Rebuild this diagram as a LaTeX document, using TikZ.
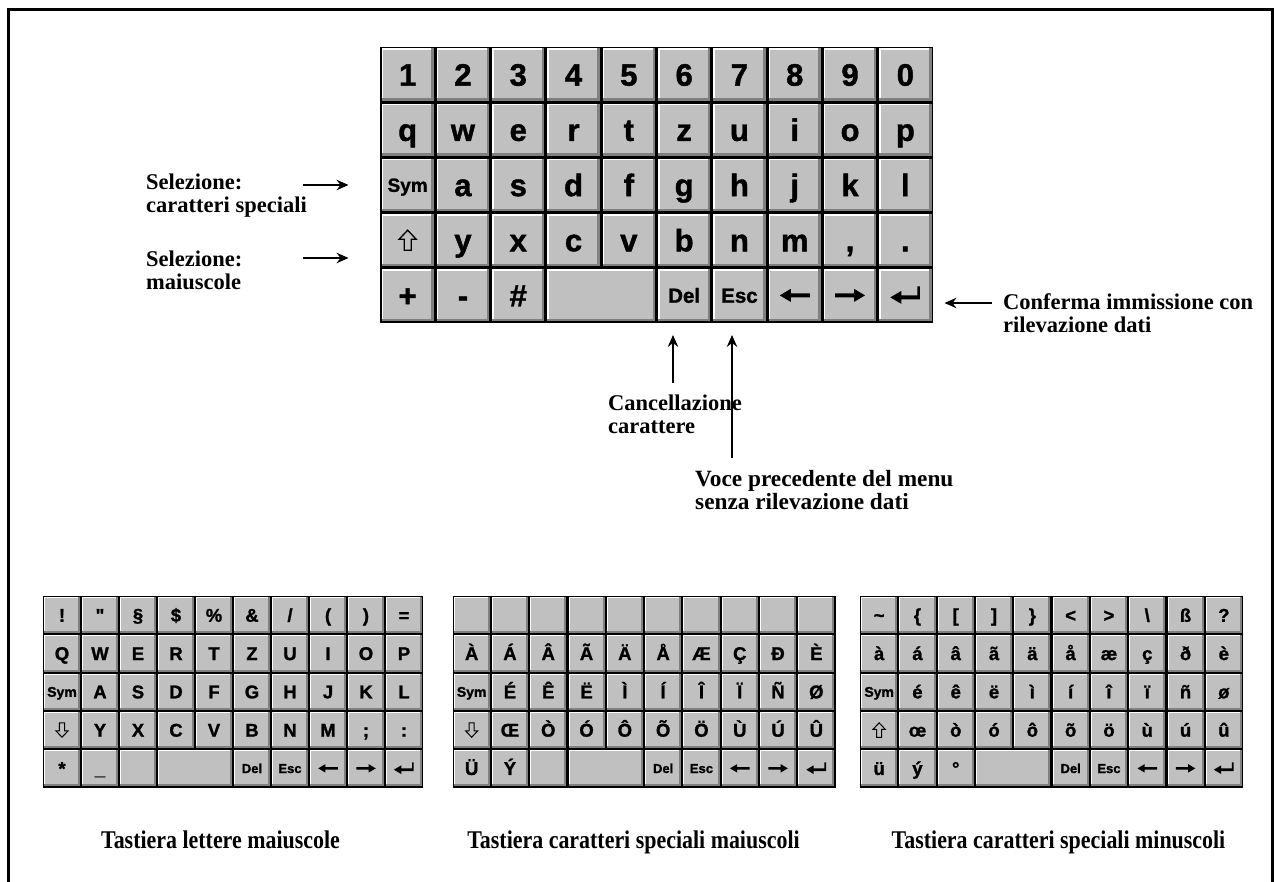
\documentclass[tikz,border=0pt]{standalone}
\usepackage{fontspec}
\setmainfont{Liberation Serif}
\setsansfont{Liberation Sans}
\newfontfamily\condfont[FakeStretch=0.86]{Liberation Serif}
\newfontfamily\keyfamily[FakeBold=1.3]{Liberation Sans}
\usetikzlibrary{arrows.meta}
\definecolor{keyface}{HTML}{C0C0C0}
\definecolor{keyshadow}{HTML}{808080}

\def\kfont{\fontsize{31}{31}\selectfont}\def\KT{22.2}
\def\symfont{\fontsize{19}{19}\selectfont}\def\symT{13.6}
\def\delfont{\fontsize{20.5}{20.5}\selectfont}\def\delT{14.7}

\tikzset{
  keynode/.style={inner sep=0pt, outer sep=0pt, font=\keyfamily\bfseries\kfont,
    text height=\KT pt, text depth=0pt},
  symk/.style={font=\keyfamily\bfseries\symfont, text height=\symT pt},
  delk/.style={font=\keyfamily\bfseries\delfont, text height=\delT pt},
  lbl/.style={font=\bfseries\fontsize{22.5}{23}\selectfont, align=left,
    inner sep=0pt, anchor=base west},
  blbl/.style={font=\condfont\bfseries\fontsize{25.5}{25.5}\selectfont,
    inner sep=0pt, anchor=base},
  arr/.style={line width=1.3pt, -{Stealth[length=12pt,width=10.5pt,inset=4pt]}},
  frame/.style={line width=3pt}
}

% key: [extra style]{name}{col}{row}{span}{label}
\newcommand\kkey[6][]{%
  \pgfmathsetmacro\kxa{\KX+(#3-1)*\KW+\KB}%
  \pgfmathsetmacro\kxb{\KX+(#3-1+#5)*\KW-\KB}%
  \pgfmathsetmacro\kya{\KY+(#4-1)*\KH+\KB}%
  \pgfmathsetmacro\kyb{\KY+#4*\KH-\KB}%
  \pgfmathsetmacro\kkw{\kxb-\kxa}%
  \pgfmathsetmacro\kkh{\kyb-\kya}%
  \fill[keyshadow] (\kxa,\kya) rectangle (\kxb,\kyb);
  \fill[white] (\kxa,\kya) rectangle (\kxb-\KS,\kyb-\KS);
  \fill[keyface] (\kxa+\KL,\kya+\KL) rectangle (\kxb-\KS,\kyb-\KS);
  \node[keynode, minimum width=\kkw pt, minimum height=\kkh pt, #1] (#2)
    at ({(\kxa+\kxb)/2},{(\kya+\kyb)/2}) {#6};
}
% row of single keys: {prefix}{row}{first col}{labels}
\newcommand\krow[4]{%
  \foreach \lab [count=\kc from #3] in {#4} {\kkey{#1-#2-\kc}{\kc}{#2}{1}{\lab}}%
}
% icons
\newcommand\icoleft[2]{\fill[shift={(#1.center)}, scale=#2]
  (-15,0) -- (-4,-6.5) -- (-4,-2) -- (15,-2) -- (15,2) -- (-4,2) -- (-4,6.5) -- cycle;}
\newcommand\icoright[2]{\fill[shift={(#1.center)}, scale=#2]
  (15,0) -- (4,-6.5) -- (4,-2) -- (-15,-2) -- (-15,2) -- (4,2) -- (4,6.5) -- cycle;}
\newcommand\icoret[2]{\fill[shift={(#1.center)}, scale=#2]
  (-15,2) -- (-4,-4.5) -- (-4,0) -- (12,0) -- (12,-9) -- (14.5,-9) -- (14.5,4)
  -- (-4,4) -- (-4,8.5) -- cycle;}
\newcommand\icoshup[3]{\draw[shift={(#1.center)}, scale=#2, line width=#3, line join=miter]
  (0,-10) -- (8.5,-1) -- (3.5,-1) -- (3.5,10) -- (-3.5,10) -- (-3.5,-1) -- (-8.5,-1) -- cycle;}
\newcommand\icoshdown[3]{\draw[shift={(#1.center)}, scale=#2, line width=#3, line join=miter]
  (0,10) -- (8.5,1) -- (3.5,1) -- (3.5,-10) -- (-3.5,-10) -- (-3.5,1) -- (-8.5,1) -- cycle;}
% bottom row of the small keyboards, columns 4..10
\newcommand\smallbottom[1]{%
  \kkey{#1-5-4}{4}{5}{2}{}
  \kkey[delk]{#1-5-6}{6}{5}{1}{Del}
  \kkey[delk]{#1-5-7}{7}{5}{1}{Esc}
  \kkey{#1-5-8}{8}{5}{1}{}\icoleft{#1-5-8}{0.65}
  \kkey{#1-5-9}{9}{5}{1}{}\icoright{#1-5-9}{0.65}
  \kkey{#1-5-10}{10}{5}{1}{}\icoret{#1-5-10}{0.67}
}

\begin{document}
\begin{tikzpicture}[x=1pt,y=-1pt]
\useasboundingbox (0,0) rectangle (1274,882);
\fill[white] (0,0) rectangle (1274,882);

% frame
\draw[frame] (8,885) -- (8,9.5) -- (1272,9.5) -- (1272,885);

% ---------------- main keyboard ----------------
\def\KX{380}\def\KY{47}\def\KW{55.3}\def\KH{55.2}\def\KB{1.5}\def\KS{2.5}\def\KL{1.5}
\fill (\KX,\KY) rectangle ({\KX+10*\KW},{\KY+5*\KH});
\krow{m}{1}{1}{1,2,3,4,5,6,7,8,9,0}
\krow{m}{2}{1}{q,w,e,r,t,z,u,i,o,p}
\kkey[symk]{m-3-1}{1}{3}{1}{Sym}
\krow{m}{3}{2}{a,s,d,f,g,h,j,k,l}
\kkey{m-4-1}{1}{4}{1}{}\icoshup{m-4-1}{1}{1.3pt}
\krow{m}{4}{2}{y,x,c,v,b,n,m,{,},.}
\krow{m}{5}{1}{+,-,\#}
\kkey{m-5-4}{4}{5}{2}{}
\kkey[delk]{m-5-6}{6}{5}{1}{Del}
\kkey[delk]{m-5-7}{7}{5}{1}{Esc}
\kkey{m-5-8}{8}{5}{1}{}\icoleft{m-5-8}{1}
\kkey{m-5-9}{9}{5}{1}{}\icoright{m-5-9}{1}
\kkey{m-5-10}{10}{5}{1}{}\icoret{m-5-10}{1}

% ---------------- small keyboards ----------------
\def\kfont{\fontsize{18.5}{18.5}\selectfont}\def\KT{13.2}
\def\symfont{\fontsize{14}{14}\selectfont}\def\symT{10}
\def\delfont{\fontsize{13}{13}\selectfont}\def\delT{9.3}
\def\KY{596}\def\KH{38.3}\def\KB{1.1}\def\KS{2}\def\KL{1}

% upper-case letters
\def\KX{43}\def\KW{38.0}
\fill (\KX,\KY) rectangle ({\KX+10*\KW},{\KY+5*\KH});
\krow{u}{1}{1}{!,\textquotedbl,§,\$,\%,\&,/,{(},{)},=}
\krow{u}{2}{1}{Q,W,E,R,T,Z,U,I,O,P}
\kkey[symk]{u-3-1}{1}{3}{1}{Sym}
\krow{u}{3}{2}{A,S,D,F,G,H,J,K,L}
\kkey{u-4-1}{1}{4}{1}{}\icoshdown{u-4-1}{0.72}{1pt}
\krow{u}{4}{2}{Y,X,C,V,B,N,M,;,:}
\krow{u}{5}{1}{*,\_}
\kkey{u-5-3}{3}{5}{1}{}
\smallbottom{u}

% special upper-case characters
\def\KX{452.5}\def\KW{38.3}
\fill (\KX,\KY) rectangle ({\KX+10*\KW},{\KY+5*\KH});
\foreach \kc in {1,...,10} {\kkey{s-1-\kc}{\kc}{1}{1}{}}
\krow{s}{2}{1}{À,Á,Â,Ã,Ä,Å,Æ,Ç,Ð,È}
\kkey[symk]{s-3-1}{1}{3}{1}{Sym}
\krow{s}{3}{2}{É,Ê,Ë,Ì,Í,Î,Ï,Ñ,Ø}
\kkey{s-4-1}{1}{4}{1}{}\icoshdown{s-4-1}{0.72}{1pt}
\krow{s}{4}{2}{Œ,Ò,Ó,Ô,Õ,Ö,Ù,Ú,Û}
\krow{s}{5}{1}{Ü,Ý}
\kkey{s-5-3}{3}{5}{1}{}
\smallbottom{s}

% special lower-case characters
\def\KX{860}\def\KW{38.3}
\fill (\KX,\KY) rectangle ({\KX+10*\KW},{\KY+5*\KH});
\krow{k}{1}{1}{\textasciitilde,\{,[,],\},<,>,\textbackslash,ß,?}
\krow{k}{2}{1}{à,á,â,ã,ä,å,æ,ç,ð,è}
\kkey[symk]{k-3-1}{1}{3}{1}{Sym}
\krow{k}{3}{2}{é,ê,ë,ì,í,î,ï,ñ,ø}
\kkey{k-4-1}{1}{4}{1}{}\icoshup{k-4-1}{0.72}{1pt}
\krow{k}{4}{2}{œ,ò,ó,ô,õ,ö,ù,ú,û}
\krow{k}{5}{1}{ü,ý,°}
\smallbottom{k}

% ---------------- labels ----------------
\node[lbl] (sel1) at (146,213) {Selezione:\\caratteri speciali};
\node[lbl] (sel2) at (146,290) {Selezione:\\maiuscole};
\node[lbl] (canc) at (608,433) {Cancellazione\\carattere};
\node[lbl, font=\bfseries\fontsize{23.3}{23}\selectfont] (voce) at (695,509) {Voce precedente del menu\\senza rilevazione dati};
\node[lbl] (conf) at (1003,333) {Conferma immissione con\\rilevazione dati};

\node[blbl] (b1) at (220.5,848) {Tastiera lettere maiuscole};
\node[blbl] (b2) at (633.5,848) {Tastiera caratteri speciali maiuscoli};
\node[blbl] (b3) at (1058.5,848) {Tastiera caratteri speciali minuscoli};

% ---------------- arrows ----------------
\coordinate (t1) at (303,185);
\coordinate (t2) at (303,258);
\coordinate (t3) at (673,383);
\coordinate (t4) at (732,458);
\coordinate (t5) at (992,303);
\draw[arr, shorten >=33pt] (t1) -- (t1 -| m-3-1.west);
\draw[arr, shorten >=33pt] (t2) -- (t2 -| m-4-1.west);
\draw[arr, shorten >=13.5pt] (t3) -- (t3 |- m-5-6.south);
\draw[arr, shorten >=13.5pt] (t4) -- (t4 |- m-5-7.south);
\draw[arr, shorten >=13pt] (t5) -- (t5 -| m-5-10.east);
\end{tikzpicture}
\end{document}
